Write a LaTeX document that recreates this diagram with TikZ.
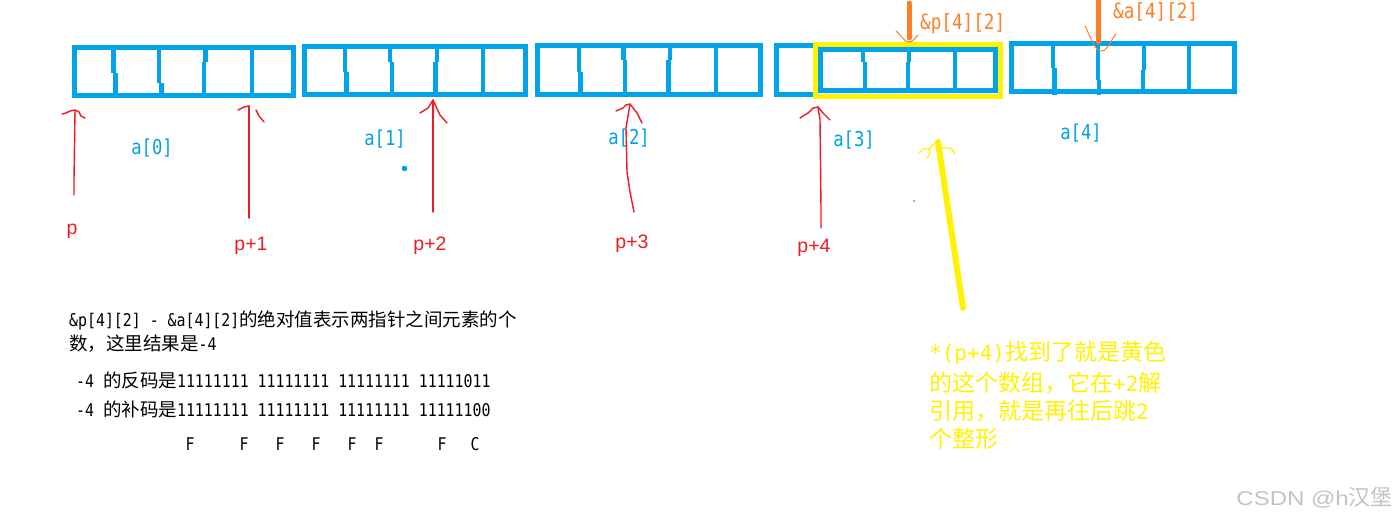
\documentclass[tikz,border=0pt]{standalone}
\usepackage{fontspec}
\newfontfamily\cjk{Noto Sans CJK SC}
\newfontfamily\mono{DejaVu Sans Mono}
\newfontfamily\monotall[FakeStretch=0.85]{DejaVu Sans Mono}
\newfontfamily\monolab[FakeStretch=0.84]{DejaVu Sans Mono}
\newfontfamily\sansf{Liberation Sans}
\newfontfamily\sanswide[FakeStretch=1.2]{Liberation Sans}
\definecolor{pblue}{RGB}{0,162,232}
\definecolor{pred}{RGB}{237,28,36}
\definecolor{pyellow}{RGB}{255,242,0}
\definecolor{porange}{RGB}{255,127,39}
\definecolor{wmgrey}{RGB}{195,195,195}
\newcommand\blkmono{\monotall\fontsize{17.5}{20}\selectfont}
\newcommand\blkcjk{\cjk\fontsize{18.5}{22}\selectfont}
\newcommand\ylwmono{\mono\fontsize{21}{25}\selectfont}
\newcommand\ylwcjk{\cjk\fontsize{23}{27}\selectfont}
\begin{document}
\begin{tikzpicture}[x=1pt,y=-1pt,
  boxln/.style={draw=pblue,line width=5pt},
  divln/.style={draw=pblue,line width=4.5pt},
  ylwbox/.style={draw=pyellow,line width=5pt},
  redln/.style={draw=pred,line width=1.4pt,line cap=round,line join=round},
  ylwthin/.style={draw=pyellow,line width=1.3pt,line cap=round,line join=round},
  orgthin/.style={draw=porange,line width=1pt,line cap=round},
  orgbar/.style={draw=porange,line width=5pt,line cap=round},
  bluelab/.style={text=pblue,font=\monolab\fontsize{20.5}{22}\selectfont,inner sep=0pt},
  orglab/.style={text=porange,font=\monolab\fontsize{21}{22}\selectfont,inner sep=0pt,anchor=west},
  redlab/.style={text=pred,font=\sansf\fontsize{19.5}{22}\selectfont,inner sep=0pt},
  blktxt/.style={text=black,inner sep=0pt,anchor=west},
  ylwtxt/.style={text=pyellow,inner sep=0pt,anchor=west},
  flab/.style={text=black,font=\blkmono,inner sep=0pt}
]
\useasboundingbox (0,0) rectangle (1395,522);
\fill[white] (0,0) rectangle (1395,522);

% ---- array boxes ----
\draw[boxln] (74.5,47.5) rectangle (293.5,95.5);
\draw[divln] (113.5,47.5) -- (113.5,73) (115.5,73) -- (115.5,98);
\draw[divln] (159,47.5) -- (159,83) (161.5,83) -- (161.5,98);
\draw[divln] (205.5,47.5) -- (205.5,62) (204,62) -- (204,97);
\draw[divln] (252,47.5) -- (252,96);
\draw[boxln] (304.5,46.5) rectangle (525.5,94.5);
\draw[divln] (345,46.5) -- (345,72) (346.5,72) -- (346.5,97);
\draw[divln] (390,46.5) -- (390,62) (392,62) -- (392,97);
\draw[divln] (437,46.5) -- (437,62) (435.5,62) -- (435.5,96);
\draw[divln] (483,46.5) -- (483,96);
\draw[boxln] (537.5,45.5) rectangle (760.5,94.5);
\draw[divln] (579,45.5) -- (579,72) (580.5,72) -- (580.5,97);
\draw[divln] (623.5,45.5) -- (623.5,60) (625,60) -- (625,97);
\draw[divln] (670,45.5) -- (670,60) (668.5,60) -- (668.5,96);
\draw[divln] (716,45.5) -- (716,96);
\draw[boxln] (813,45.5) -- (776.5,45.5) -- (776.5,94.5) -- (813,94.5);
\draw[boxln] (820.5,49.5) rectangle (995.5,90.5);
\draw[divln] (863,49.5) -- (863,62) (865,62) -- (865,91.5);
\draw[divln] (909,49.5) -- (909,62) (908,62) -- (908,91.5);
\draw[divln] (955,49.5) -- (955,91.5);
\draw[ylwbox] (815.5,44.5) rectangle (1000.5,96.5);
\draw[boxln] (1011.5,43.5) rectangle (1234.5,91.5);
\draw[divln] (1053,43.5) -- (1053,68) (1054.5,68) -- (1054.5,95);
\draw[divln] (1098,43.5) -- (1098,80) (1099,80) -- (1099,95);
\draw[divln] (1144,43.5) -- (1144,70) (1143,70) -- (1143,94);
\draw[divln] (1189,43.5) -- (1189,94);

% ---- orange markers ----
\coordinate (ob1t) at (909,3);
\coordinate (ob1b) at (909,38);
\draw[orgbar] (ob1t) -- (ob1b);
\draw[orgthin] (896,31) .. controls (902,36) and (904,42) .. (909,42) .. controls (913,42) and (915,38) .. (918,35);
\node[orglab] (lp42) at (920,24) {\&p[4][2]};
\coordinate (ob2t) at (1098,-3);
\coordinate (ob2b) at (1098,42);
\draw[orgbar] (ob2t) -- (ob2b);
\draw[orgthin] (1085,26) .. controls (1092,40) and (1095,52) .. (1102,51) .. controls (1108,50) and (1112,38) .. (1116,34);
\node[orglab] (la42) at (1113,12) {\&a[4][2]};

% ---- blue labels ----
\node[bluelab] (a0) at (152,148) {a[0]};
\node[bluelab] (a1) at (385,139) {a[1]};
\node[bluelab] (a2) at (629,138) {a[2]};
\node[bluelab] (a3) at (854,140) {a[3]};
\node[bluelab] (a4) at (1081,133) {a[4]};
\fill[pblue] (404.5,168.5) circle (2.8);

% ---- red pointer arrows ----
\node[redlab] (lp0) at (72,231) {p};
\node[redlab] (lp1) at (251,246) {p+1};
\node[redlab] (lp2) at (430,246) {p+2};
\node[redlab] (lp3) at (632,244) {p+3};
\node[redlab] (lp4) at (814,248) {p+4};

\coordinate (r0s) at (74,195); \coordinate (r0t) at (75,110);
\draw[redln] (r0s) -- (74,180) -- (r0t);
\draw[redln] (62,114) -- (66,113) -- (70,111) -- (r0t) -- (79,112) -- (81,116) -- (85,118);

\coordinate (r1s) at (249,218); \coordinate (r1t) at (249,106);
\draw[redln] (r1s) -- (r1t);
\draw[redln] (238,110) -- (244,107) -- (r1t);
\draw[redln] (256,110) -- (259,116) -- (264,122);

\coordinate (r2s) at (433,212); \coordinate (r2t) at (433,100);
\draw[redln] (r2s) -- (r2t);
\draw[redln] (420,113) -- (428,108) -- (r2t) -- (440,115) -- (447,123);

\coordinate (r3s) at (634,212); \coordinate (r3t) at (630,104);
\draw[redln] (r3s) -- (630,192) -- (627,172) -- (626,128) -- (r3t);
\draw[redln] (616,111) -- (623,108) -- (626,105) -- (r3t) -- (637,113) -- (642,123);

\coordinate (r4s) at (821,228); \coordinate (r4t) at (818,107);
\draw[redln] (r4s) -- (821,208) -- (820,120) -- (r4t);
\draw[redln] (800,118) -- (808,113) -- (813,108) -- (r4t) -- (823,113) -- (830,120);
\fill[pred] (914,201) circle (0.8);

% ---- yellow pointer ----
\coordinate (yls) at (963,308); \coordinate (ylt) at (938,142);
\draw[draw=pyellow,line width=6pt,line cap=round] (yls) -- (ylt);
\draw[ylwthin] (919,153) -- (923,149) -- (929,149) -- (930,153) -- (927,158);
\draw[ylwthin] (929,149) -- (932,145) -- (ylt) -- (942,148) -- (951,148) -- (955,154);

% ---- black explanatory text ----
\node[blktxt] (t1) at (69,320) {{\blkmono\&p[4][2] - \&a[4][2]}{\blkcjk 的绝对值表示两指针之间元素的个}};
\node[blktxt] (t2) at (69,344) {{\blkcjk 数，这里结果是}{\blkmono -4}};
\node[blktxt] (t3) at (76,380) {{\blkmono -4 }{\blkcjk 的反码是}{\blkmono 11111111 11111111 11111111 11111011}};
\node[blktxt] (t4) at (76,409) {{\blkmono -4 }{\blkcjk 的补码是}{\blkmono 11111111 11111111 11111111 11111100}};
\node[flab] (f1) at (190,444) {F};
\node[flab] (f2) at (244,444) {F};
\node[flab] (f3) at (280,444) {F};
\node[flab] (f4) at (316,444) {F};
\node[flab] (f5) at (352,444) {F};
\node[flab] (f6) at (379,444) {F};
\node[flab] (f7) at (442,444) {F};
\node[flab] (f8) at (475,444) {C};

% ---- yellow text ----
\node[ylwtxt] (y1) at (929,353) {{\ylwmono *(p+4)}{\ylwcjk 找到了就是黄色}};
\node[ylwtxt] (y2) at (929,383) {{\ylwcjk 的这个数组，它在}{\ylwmono +2}{\ylwcjk 解}};
\node[ylwtxt] (y3) at (929,411) {{\ylwcjk 引用，就是再往后跳}{\ylwmono 2}};
\node[ylwtxt] (y4) at (929,439) {{\ylwcjk 个整形}};

% ---- watermark ----
\node[text=wmgrey,inner sep=0pt,anchor=east] (wm) at (1393,498) {{\sanswide\fontsize{20}{22}\selectfont CSDN @h}{\cjk\fontsize{22}{22}\selectfont 汉堡}};
\end{tikzpicture}
\end{document}
